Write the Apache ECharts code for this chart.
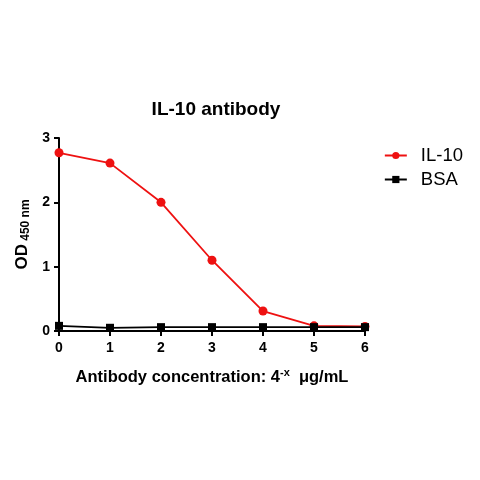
<!DOCTYPE html>
<html>
<head>
<meta charset="utf-8">
<script src="https://cdn.jsdelivr.net/npm/echarts@6/dist/echarts.min.js"></script>
<style>
html, body { margin: 0; padding: 0; background: #fff; }
#chart { width: 480px; height: 480px; }
</style>
</head>
<body>
<div id="chart"></div>
<script>
// data
var xValues = [0, 1, 2, 3, 4, 5, 6];
var il10 = [2.77, 2.61, 2.0, 1.1, 0.31, 0.08, 0.07];
var bsa = [0.08, 0.05, 0.06, 0.06, 0.06, 0.06, 0.06];
var yTicks = [0, 1, 2, 3];

function pairs(ys) {
	return xValues.map(function(x, i) { return [x, ys[i]]; });
}

var myChart = echarts.init(document.getElementById('chart'));
var font = 'Liberation Sans, Arial, sans-serif';
var option = {
	backgroundColor: '#fff',
	animation: false,
	title: {
		text: 'IL-10 antibody',
		left: 211,
		top: 95,
		textAlign: 'center',
		textStyle: { fontFamily: font, fontSize: 19, fontWeight: 'bold', color: '#000' }
	},
	legend: {
		right: 12,
		top: 141,
		orient: 'vertical',
		itemWidth: 22,
		itemHeight: 9,
		itemGap: 5,
		textStyle: { fontFamily: font, fontSize: 18.5, color: '#000', padding: [0, 0, 0, 9] },
		data: ['IL-10', 'BSA']
	},
	grid: { left: 59, right: 115, top: 138, bottom: 149 },
	xAxis: {
		type: 'value',
		min: 0, max: 6, interval: 1,
		axisLine: { lineStyle: { color: '#000', width: 2 } },
		axisTick: { show: true, length: 5, lineStyle: { color: '#000', width: 2 } },
		axisLabel: { fontFamily: font, fontSize: 14, fontWeight: 'bold', color: '#000', margin: 10 },
		splitLine: { show: false },
		name: '{a|Antibody concentration: 4}{s|-x}{a|  μg/mL}',
		nameLocation: 'middle',
		nameGap: 36,
		nameTextStyle: {
			rich: {
				a: { fontFamily: font, fontSize: 16.5, fontWeight: 'bold', color: '#000' },
				s: { fontFamily: font, fontSize: 11, fontWeight: 'bold', color: '#000', verticalAlign: 'top', padding: [0, 0, 9, 0] }
			}
		}
	},
	yAxis: {
		type: 'value',
		min: yTicks[0], max: yTicks[yTicks.length - 1], interval: 1,
		axisLine: { show: true, lineStyle: { color: '#000', width: 2 } },
		axisTick: { show: true, length: 5, lineStyle: { color: '#000', width: 2 } },
		axisLabel: { fontFamily: font, fontSize: 14, fontWeight: 'bold', color: '#000', margin: 9 },
		splitLine: { show: false },
		name: '{a|OD}{s| 450 nm}',
		nameLocation: 'middle',
		nameGap: 26,
		nameTextStyle: {
			rich: {
				a: { fontFamily: font, fontSize: 17, fontWeight: 'bold', color: '#000' },
				s: { fontFamily: font, fontSize: 12, fontWeight: 'bold', color: '#000', padding: [7, 0, 0, 0] }
			}
		}
	},
	series: [{
		name: 'IL-10',
		type: 'line',
		data: pairs(il10),
		symbol: 'circle',
		symbolSize: 9,
		itemStyle: { color: '#ee1111' },
		lineStyle: { color: '#ee1111', width: 1.8 },
		z: 3
	}, {
		name: 'BSA',
		type: 'line',
		data: pairs(bsa),
		symbol: 'rect',
		symbolSize: 8,
		itemStyle: { color: '#000' },
		lineStyle: { color: '#000', width: 1.8 },
		z: 4
	}]
};
myChart.setOption(option);
</script>
</body>
</html>
